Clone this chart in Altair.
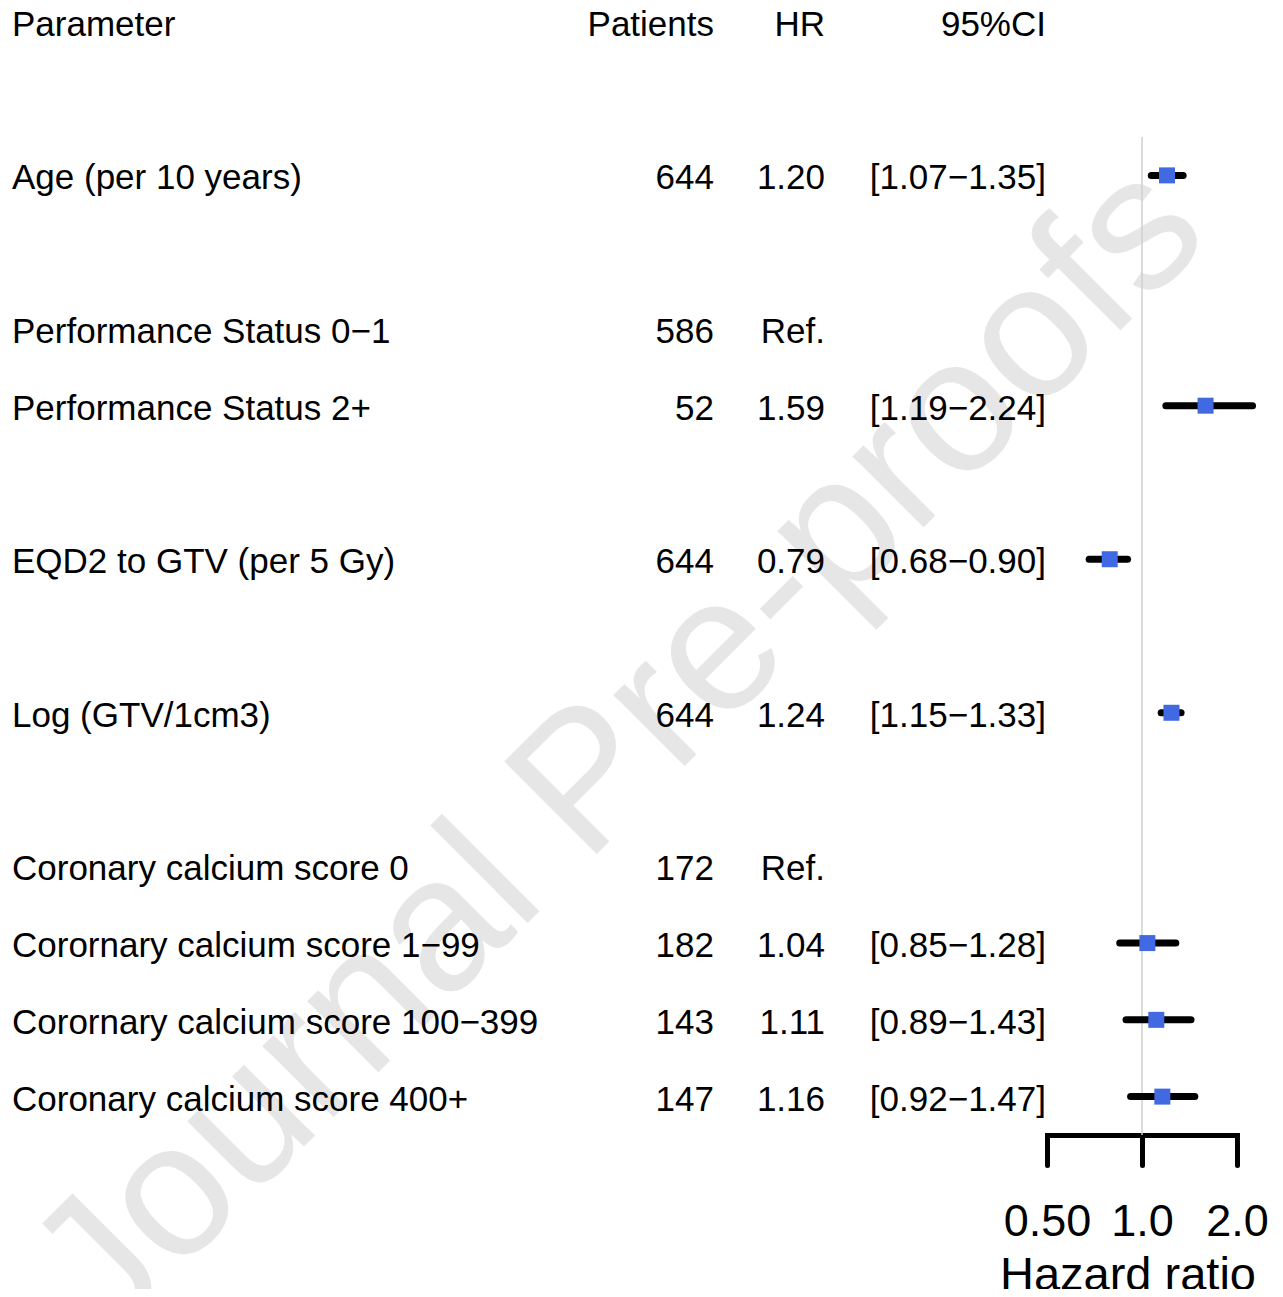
import altair as alt
import pandas as pd

# ---- data ----
params = ["Age (per 10 years)", "Performance Status 0\u22121", "Performance Status 2+",
          "EQD2 to GTV (per 5 Gy)", "Log (GTV/1cm3)", "Coronary calcium score 0",
          "Corornary calcium score 1\u221299", "Corornary calcium score 100\u2212399",
          "Coronary calcium score 400+"]
rows = [2, 4, 5, 7, 9, 11, 12, 13, 14]
patients = ["644", "586", "52", "644", "644", "172", "182", "143", "147"]
hr = [1.20, None, 1.59, 0.79, 1.24, None, 1.04, 1.11, 1.16]
lo = [1.07, None, 1.19, 0.68, 1.15, None, 0.85, 0.89, 0.92]
hi = [1.35, None, 2.24, 0.90, 1.33, None, 1.28, 1.43, 1.47]
headers = ["Parameter", "Patients", "HR", "95%CI"]
x_ticks = [0.5, 1.0, 2.0]


def fmt2(v):
    return f"{v:.2f}"


hr_text = [fmt2(h) if h is not None else "Ref." for h in hr]
ci_text = [f"[{fmt2(a)}\u2212{fmt2(b)}]" if a is not None else "" for a, b in zip(lo, hi)]

df = pd.DataFrame({"param": params, "row": rows, "patients": patients, "hr": hr,
                   "lo": lo, "hi": hi, "hr_text": hr_text, "ci_text": ci_text})
df_est = df[df["hr"].notna()].copy()
hdr = pd.DataFrame({"row": [0], "h0": [headers[0]], "h1": [headers[1]],
                    "h2": [headers[2]], "h3": [headers[3]]})

FONT = "Liberation Sans"
FS = 35
H = 998
W = 1260

yscale = alt.Scale(domain=[14.5, 1.5], range=[H, 0], nice=False, zero=False)
xscale = alt.Scale(type="log", base=2, domain=[0.5, 2.0], range=[1039, 1229], nice=False, zero=False)

def text_layer(data, field, xpx, align):
    return alt.Chart(data).mark_text(align=align, baseline="middle", font=FONT,
                                     fontSize=FS, color="black", dy=3).encode(
        x=alt.value(xpx),
        y=alt.Y("row:Q", scale=yscale, axis=None),
        text=alt.Text(f"{field}:N"),
    )

one = pd.DataFrame({"a": [0]})

watermark = alt.Chart(one).mark_text(
    text="Journal Pre-proofs", font=FONT, fontSize=190, color="#e6e6e6",
    angle=315, align="center", baseline="middle"
).encode(x=alt.value(612), y=alt.value(613))

refline = alt.Chart(one).mark_rule(color="#cfcfcf", strokeWidth=1.5).encode(
    x=alt.datum(1.0, scale=xscale,
                axis=alt.Axis(values=x_ticks, title=None, grid=False,
                              labelExpr="datum.value == 0.5 ? '0.50' : format(datum.value, '.1f')")),
    y=alt.value(0), y2=alt.value(H))

ci = alt.Chart(df_est).mark_rule(color="black", strokeWidth=7, strokeCap="round").encode(
    x=alt.X("lo:Q", scale=xscale),
    x2="hi:Q",
    y=alt.Y("row:Q", scale=yscale, axis=None),
)

pts = alt.Chart(df_est).mark_point(shape="square", filled=True, size=256, color="#4169E1",
                                   opacity=1).encode(
    x=alt.X("hr:Q", scale=xscale),
    y=alt.Y("row:Q", scale=yscale, axis=None),
)

title_txt = alt.Chart(one).mark_text(text="Hazard ratio", font=FONT, fontSize=47, color="black",
                                     align="center", baseline="alphabetic").encode(
    x=alt.value(1120), y=alt.value(1153))

layers = [
    watermark, refline, ci, pts,
    text_layer(hdr, "h0", 4, "left"),
    text_layer(hdr, "h1", 706, "right"),
    text_layer(hdr, "h2", 817, "right"),
    text_layer(hdr, "h3", 1038, "right"),
    text_layer(df, "param", 4, "left"),
    text_layer(df, "patients", 706, "right"),
    text_layer(df, "hr_text", 817, "right"),
    text_layer(df, "ci_text", 1038, "right"),
    title_txt,
]

chart = alt.layer(*layers).properties(
    width=W, height=H,
    autosize=alt.AutoSizeParams(type="none"),
    padding={"left": 0, "top": 129, "right": 0, "bottom": 154},
    background="white",
).configure_view(stroke=None).configure_axis(
    domainColor="black", domainWidth=5, domainCap="square",
    tickColor="black", tickWidth=5, tickSize=30, tickCap="round",
    labelFont=FONT, labelFontSize=45, labelColor="black", labelPadding=34,
    labelFlush=False, labelOverlap=False,
)

chart.save("out.html", embed_options={"renderer": "svg", "actions": False})
